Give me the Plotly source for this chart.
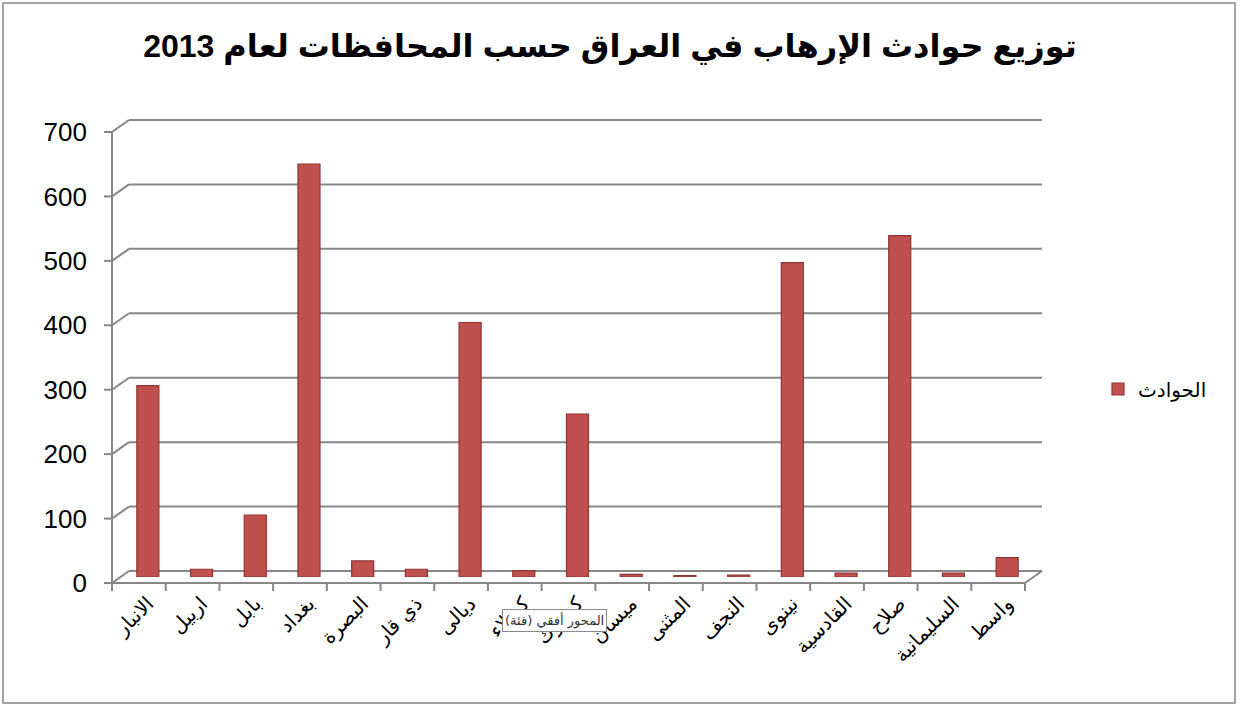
import plotly.graph_objects as go

# ---- data ----
provinces = ["الانبار", "اربيل", "بابل", "بغداد", "البصرة", "ذي قار", "ديالى", "كربلاء",
             "كركوك", "ميسان", "المثنى", "النجف", "نينوى", "القادسية", "صلاح", "السليمانية", "واسط"]
incidents = [297, 12, 96, 641, 25, 12, 395, 10, 253, 4, 2, 3, 488, 6, 530, 6, 30]
y_ticks = [0, 100, 200, 300, 400, 500, 600, 700]
series_name = "الحوادث"
title_text = "توزيع حوادث الإرهاب في العراق حسب المحافظات لعام 2013"
tooltip_text = "المحور أفقي (فئة)"

# ---- layout geometry (pixels) ----
W, H = 1240, 707
L, R, T, B = 121, 206, 126, 130
PW = W - L - R
PH = H - T - B
YMAX = 700.0

def px(dx):                 # px offset -> paper x fraction
    return dx / PW

def yp(v, dy_px):            # value + vertical px offset (up positive) -> paper y
    return v / YMAX + dy_px / PH

FRONT_DY, BACK_DY = -6, 6
FRONT_DX, BACK_DX = px(-9), px(8)

grid = dict(color="#878787", width=2)
shapes = []
def seg(x0, y0, x1, y1, line=grid):
    shapes.append(dict(type="line", xref="paper", yref="paper", x0=x0, y0=y0,
                       x1=x1, y1=y1, line=line, layer="below"))

for t in y_ticks:
    seg(FRONT_DX, yp(t, FRONT_DY), BACK_DX, yp(t, BACK_DY))           # side wall diagonal
    seg(BACK_DX, yp(t, BACK_DY), 1 + BACK_DX, yp(t, BACK_DY))         # back wall gridline
    seg(FRONT_DX - px(8), yp(t, FRONT_DY), FRONT_DX, yp(t, FRONT_DY))  # y tick mark
seg(FRONT_DX, yp(0, FRONT_DY), FRONT_DX, yp(YMAX, FRONT_DY))          # front y axis
seg(FRONT_DX, yp(0, FRONT_DY), 1 + FRONT_DX, yp(0, FRONT_DY))         # floor front edge
seg(1 + FRONT_DX, yp(0, FRONT_DY), 1 + BACK_DX, yp(0, BACK_DY))       # floor right edge
n = len(provinces)
for k in range(n + 1):
    seg(k / n + FRONT_DX, yp(0, FRONT_DY), k / n + FRONT_DX, yp(0, FRONT_DY - 8))
# outer chart border
shapes.append(dict(type="rect", xref="paper", yref="paper",
                   x0=(3 - L) / PW, x1=(W - 5 - L) / PW,
                   y0=(H - B - (H - 4)) / PH, y1=(H - B - 3) / PH,
                   line=dict(color="#868686", width=1.5), layer="below"))

fig = go.Figure()
fig.add_trace(go.Bar(
    x=provinces, y=incidents, name=series_name, width=0.41,
    marker=dict(color="#C0504D", line=dict(color="#8E3532", width=1.2)),
    showlegend=True,
))

fig.update_layout(
    width=W, height=H,
    margin=dict(l=L, r=R, t=T, b=B, autoexpand=False),
    paper_bgcolor="white", plot_bgcolor="white",
    title=dict(text="<b>" + title_text + "</b>", x=610 / W, xanchor="center",
               y=1 - 46 / H, yanchor="middle",
               font=dict(family="Liberation Sans, DejaVu Sans, Arial", size=32, color="black")),
    xaxis=dict(type="category", range=[-0.5, n - 0.5], showgrid=False, showline=False,
               zeroline=False, ticks="", tickangle=-45, ticklabelstandoff=10,
               tickfont=dict(family="DejaVu Sans, Tahoma", size=20, color="black")),
    yaxis=dict(range=[0, YMAX], tickvals=y_ticks, showgrid=False, showline=False,
               zeroline=False, ticks="", ticklabelstandoff=33, ticklabelshift=6,
               tickfont=dict(family="Liberation Sans, Arial", size=26, color="black")),
    legend=dict(x=(1098 - L) / PW, xanchor="left", y=(H - B - 389) / PH, yanchor="middle",
                font=dict(family="DejaVu Sans, Tahoma", size=20, color="black"),
                bgcolor="rgba(0,0,0,0)"),
    shapes=shapes,
    annotations=[dict(text=tooltip_text, xref="paper", yref="paper",
                      x=(554 - L) / PW, y=(H - B - 632) / PH, showarrow=False,
                      font=dict(family="DejaVu Sans, Tahoma", size=13, color="#333333"),
                      bgcolor="white", bordercolor="#8a8a8a", borderwidth=1, borderpad=2)],
)

fig.write_html("out.html", config={"displayModeBar": False},
               post_script="document.body.style.margin='0';")
